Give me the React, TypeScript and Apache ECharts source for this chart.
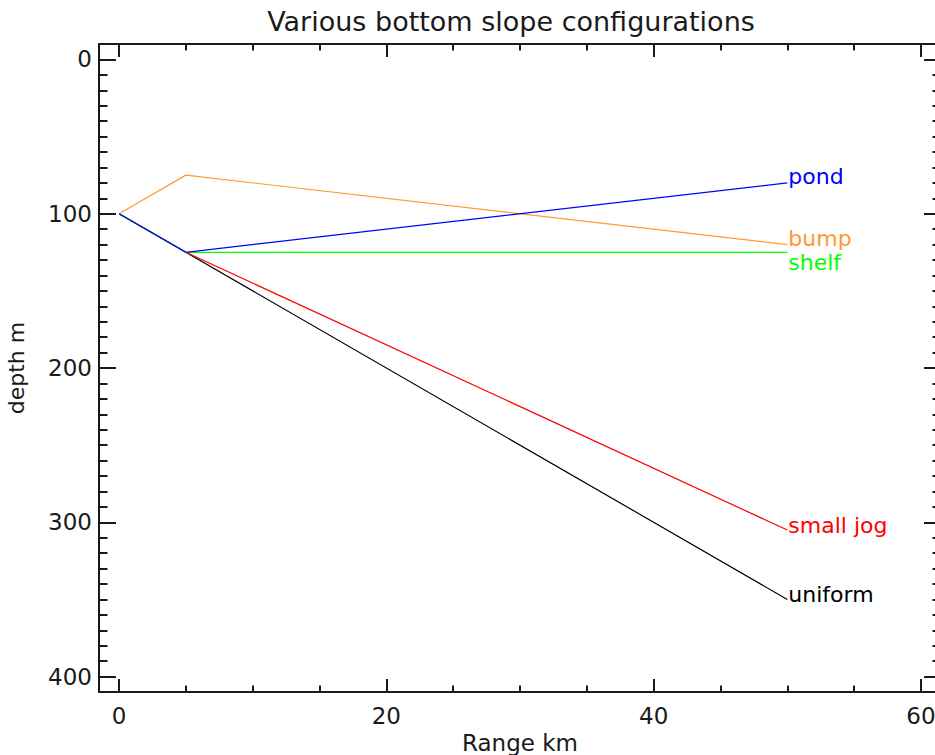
import React, { useEffect, useRef } from "react";
import * as echarts from "echarts";

// Range along the section (km) at each profile vertex
const rangeKm = [0, 5, 50];

// Bottom depth (m) of each slope configuration at those ranges
const uniformDepth = [100, 125, 350];
const smallJogDepth = [100, 125, 305];
const shelfDepth = [100, 125, 125];
const bumpDepth = [100, 75, 120];
const pondDepth = [100, 125, 80];

const profileNames = ["uniform", "small jog", "shelf", "bump", "pond"];

// Axis ticks
const xMajorTicks = [0, 20, 40, 60];
const xMinorTicks = [5, 10, 15, 25, 30, 35, 45, 50, 55];
const yMajorTicks = [0, 100, 200, 300, 400];
const yMinorTicks: number[] = [];
for (let v = 10; v < 400; v += 10) if (v % 100 !== 0) yMinorTicks.push(v);

const FONT = "DejaVu Sans";

type Profile = { name: string; depth: number[]; color: string; labelDy: number };

// Drawing order: pond last so it sits on top of the shared first segment
const profiles: Profile[] = [
  { name: profileNames[0], depth: uniformDepth, color: "#000000", labelDy: -5 },
  { name: profileNames[1], depth: smallJogDepth, color: "#ff0000", labelDy: -5 },
  { name: profileNames[2], depth: shelfDepth, color: "#00ff00", labelDy: 10 },
  { name: profileNames[3], depth: bumpDepth, color: "#ff9933", labelDy: -6 },
  { name: profileNames[4], depth: pondDepth, color: "#0000ff", labelDy: -6 },
];

const AXIS_COLOR = "#1a1a1a";

function frameAxis(
  kind: "x" | "y",
  position: string,
  ticks: number[],
  len: number,
  showLine: boolean,
  showLabels: boolean
) {
  const base: any = {
    type: "value",
    position,
    min: kind === "x" ? -1.5 : -10,
    max: kind === "x" ? 61.5 : 410,
    inverse: kind === "y",
    splitLine: { show: false },
    axisLine: { show: showLine, onZero: false, lineStyle: { color: AXIS_COLOR, width: 2 } },
    axisTick: {
      show: true,
      inside: true,
      length: len,
      customValues: ticks,
      lineStyle: { color: AXIS_COLOR, width: 2 },
    },
    axisLabel: showLabels
      ? {
          show: true,
          customValues: ticks,
          color: "#1a1a1a",
          fontFamily: FONT,
          fontSize: 23,
          margin: kind === "x" ? 12 : 7,
          formatter: (v: number) => String(v),
        }
      : { show: false },
  };
  return base;
}

export default function App() {
  const ref = useRef<HTMLDivElement>(null);

  useEffect(() => {
    if (!ref.current) return;
    const chart = echarts.init(ref.current, null, { renderer: "svg" });

    const xAxes = [
      {
        ...frameAxis("x", "bottom", xMajorTicks, 13, true, true),
        name: "Range km",
        nameLocation: "middle",
        nameGap: 36,
        nameTextStyle: { fontFamily: FONT, fontSize: 23, color: "#1a1a1a" },
      },
      frameAxis("x", "bottom", xMinorTicks, 6.5, false, false),
      frameAxis("x", "top", xMajorTicks, 13, true, false),
      frameAxis("x", "top", xMinorTicks, 6.5, false, false),
    ];
    const yAxes = [
      {
        ...frameAxis("y", "left", yMajorTicks, 17, true, true),
        name: "depth m",
        nameLocation: "middle",
        nameGap: 72,
        nameTextStyle: { fontFamily: FONT, fontSize: 22, color: "#1a1a1a" },
      },
      frameAxis("y", "left", yMinorTicks, 8.5, false, false),
      frameAxis("y", "right", yMajorTicks, 17, true, false),
      frameAxis("y", "right", yMinorTicks, 8.5, false, false),
    ];

    const series = profiles.map((p) => ({
      name: p.name,
      type: "line",
      xAxisIndex: 0,
      yAxisIndex: 0,
      symbol: "none",
      silent: true,
      lineStyle: { color: p.color, width: 1.2 },
      endLabel: {
        show: true,
        formatter: p.name,
        distance: 0,
        offset: [1, p.labelDy],
        align: "left",
        verticalAlign: "middle",
        color: p.color,
        fontFamily: FONT,
        fontSize: 22,
      },
      data: rangeKm.map((x, i) => [x, p.depth[i]]),
    }));

    chart.setOption({
      animation: false,
      backgroundColor: "#ffffff",
      title: {
        text: "Various bottom slope configurations",
        left: 506,
        textAlign: "center",
        top: 3,
        textStyle: { fontFamily: FONT, fontSize: 27, fontWeight: "normal", color: "#1a1a1a" },
      },
      grid: {
        left: 99,
        top: 44,
        width: 842,
        height: 648,
        containLabel: false,
        outerBoundsMode: "none",
      },
      xAxis: xAxes,
      yAxis: yAxes,
      series,
    });

    return () => chart.dispose();
  }, []);

  return (
    <div
      ref={ref}
      style={{ position: "fixed", left: 0, top: 0, width: 935, height: 755, background: "#fff" }}
    />
  );
}
